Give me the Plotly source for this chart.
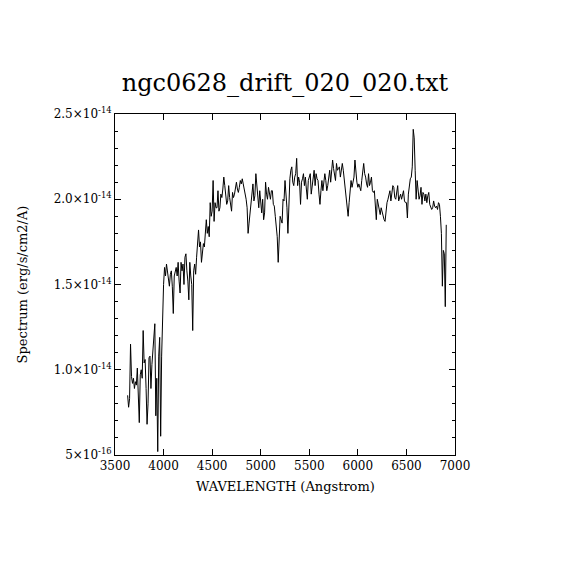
import plotly.graph_objs as go

# spectrum sampled every 10 A, flux in units of 1e-14 erg/s/cm2/A
wave_start = 3630
wave_step = 10
flux_e14 = [
    0.85, 0.78, 0.83, 1.15, 0.96, 0.92, 0.95, 0.89, 0.93, 0.91,
    1.01, 0.86, 0.69, 0.97, 1.00, 0.95, 1.23, 1.04, 1.06, 0.89,
    0.68, 0.80, 1.07, 1.08, 0.89, 1.03, 1.10, 1.18, 1.27, 0.73,
    0.95, 0.52, 1.08, 1.19, 0.61, 1.08, 1.41, 1.50, 1.60, 1.55,
    1.62, 1.58, 1.52, 1.49, 1.56, 1.58, 1.49, 1.33, 1.55, 1.58,
    1.60, 1.55, 1.63, 1.52, 1.45, 1.63, 1.58, 1.62, 1.50, 1.66,
    1.68, 1.58, 1.52, 1.41, 1.63, 1.55, 1.50, 1.23, 1.58, 1.62,
    1.56, 1.66, 1.75, 1.82, 1.72, 1.75, 1.63, 1.68, 1.74, 1.72,
    1.80, 1.88, 1.80, 1.84, 1.78, 1.98, 1.90, 1.93, 2.11, 1.87,
    1.98, 1.95, 1.95, 2.05, 1.93, 1.95, 2.03, 2.01, 2.06, 2.13,
    2.08, 2.00, 1.97, 1.99, 2.08, 2.01, 1.98, 1.93, 2.04, 2.01,
    2.03, 2.08, 2.10, 2.06, 2.04, 2.07, 2.11, 2.09, 2.12, 2.09,
    2.06, 2.04, 2.00, 1.95, 1.80, 1.86, 1.93, 1.97, 2.03, 2.09,
    1.99, 2.02, 2.15, 2.08, 2.01, 1.95, 2.05, 1.95, 1.92, 2.00,
    1.88, 1.92, 2.10, 2.03, 2.00, 2.07, 2.03, 2.00, 2.05, 2.05,
    1.97, 1.96, 1.90, 1.85, 1.78, 1.63, 1.80, 1.90, 1.88, 1.86,
    2.00, 1.99, 2.11, 2.03, 1.95, 1.80, 2.00, 2.12, 2.17, 2.19,
    2.10, 2.08, 2.13, 2.15, 2.24, 2.08, 2.13, 2.10, 1.97, 2.10,
    2.12, 2.15, 2.08, 2.13, 2.06, 2.00, 2.11, 2.14, 2.15, 2.03,
    2.08, 2.12, 2.17, 2.08, 2.15, 2.12, 2.11, 2.03, 1.97, 2.05,
    2.11, 2.05, 2.12, 2.15, 2.11, 2.05, 2.08, 2.13, 2.17, 2.10,
    2.15, 2.23, 2.18, 2.14, 2.11, 2.21, 2.17, 2.18, 2.19, 2.13,
    2.17, 2.21, 2.17, 2.11, 2.08, 2.02, 1.93, 1.90, 1.98, 2.06,
    2.11, 2.07, 2.10, 2.13, 2.23, 2.15, 2.10, 2.07, 2.09, 2.07,
    2.05, 2.11, 2.15, 2.21, 2.15, 2.13, 2.09, 2.07, 2.15, 2.08,
    2.10, 2.13, 2.05, 2.04, 2.05, 1.94, 1.88, 2.00, 1.97, 1.93,
    1.91, 1.95, 1.92, 1.90, 1.88, 1.87, 1.94, 1.98, 2.00, 2.03,
    2.05, 1.99, 2.04, 2.08, 2.07, 2.01, 2.00, 2.05, 2.08, 1.99,
    2.02, 2.03, 2.00, 2.04, 2.05, 1.99, 1.98, 1.98, 1.89, 2.03,
    2.08, 2.12, 2.13, 2.19, 2.41, 2.36, 2.17, 2.00, 2.11, 2.05,
    2.00, 2.02, 2.07, 1.97, 2.04, 2.03, 1.99, 2.03, 1.98, 2.02,
    2.04, 1.97, 1.95, 1.94, 1.95, 1.99, 1.96, 1.95, 1.96, 1.94,
    1.98, 1.97, 1.90, 1.80, 1.49, 1.70, 1.68, 1.37, 1.85,
]

x_ticks = [3500, 4000, 4500, 5000, 5500, 6000, 6500, 7000]
y_ticks = [0.5, 1.0, 1.5, 2.0, 2.5]
y_ticktext = ['5×10<sup>-16</sup>', '1.0×10<sup>-14</sup>', '1.5×10<sup>-14</sup>',
              '2.0×10<sup>-14</sup>', '2.5×10<sup>-14</sup>']

title_text = 'ngc0628_drift_020_020.txt'
x_title = 'WAVELENGTH (Angstrom)'
y_title = 'Spectrum (erg/s/cm2/A)'

serif = 'DejaVu Serif'

fig = go.Figure(go.Scatter(
    x0=wave_start, dx=wave_step, y=flux_e14,
    mode='lines', line=dict(color='black', width=1),
    hoverinfo='x+y'
))

axis_common = dict(
    showline=True, linecolor='black', linewidth=1, mirror='allticks',
    ticks='inside', tickcolor='black', showgrid=False, zeroline=False,
    tickfont=dict(family=serif, size=12, color='black'),
)

# the page body adds an 8px offset, so margins are shifted to compensate
fig.update_layout(
    width=570, height=570,
    margin=dict(l=107, r=123, t=106, b=123),
    paper_bgcolor='white', plot_bgcolor='white',
    showlegend=False,
    title=dict(text=title_text, x=(285 - 8) / 570, xanchor='center', y=1 - 75 / 570,
               yanchor='middle', yref='container',
               font=dict(family=serif, size=24, color='black')),
    xaxis=dict(range=[3500, 7000], tickvals=x_ticks, ticklen=6, **axis_common),
    yaxis=dict(range=[0.5, 2.5], tickvals=y_ticks, ticktext=y_ticktext, ticklen=6,
               minor=dict(dtick=0.1, ticks='inside', ticklen=3, tickcolor='black'),
               **axis_common),
    annotations=[
        dict(text=x_title, xref='paper', yref='paper', x=0.5, y=0, yshift=-31,
             showarrow=False, xanchor='center', yanchor='middle',
             font=dict(family=serif, size=13, color='black')),
        dict(text=y_title, xref='paper', yref='paper', x=0, y=0.5, xshift=-93,
             showarrow=False, textangle=-90, xanchor='center', yanchor='middle',
             font=dict(family=serif, size=13, color='black')),
    ],
)

fig.write_html("out.html")
